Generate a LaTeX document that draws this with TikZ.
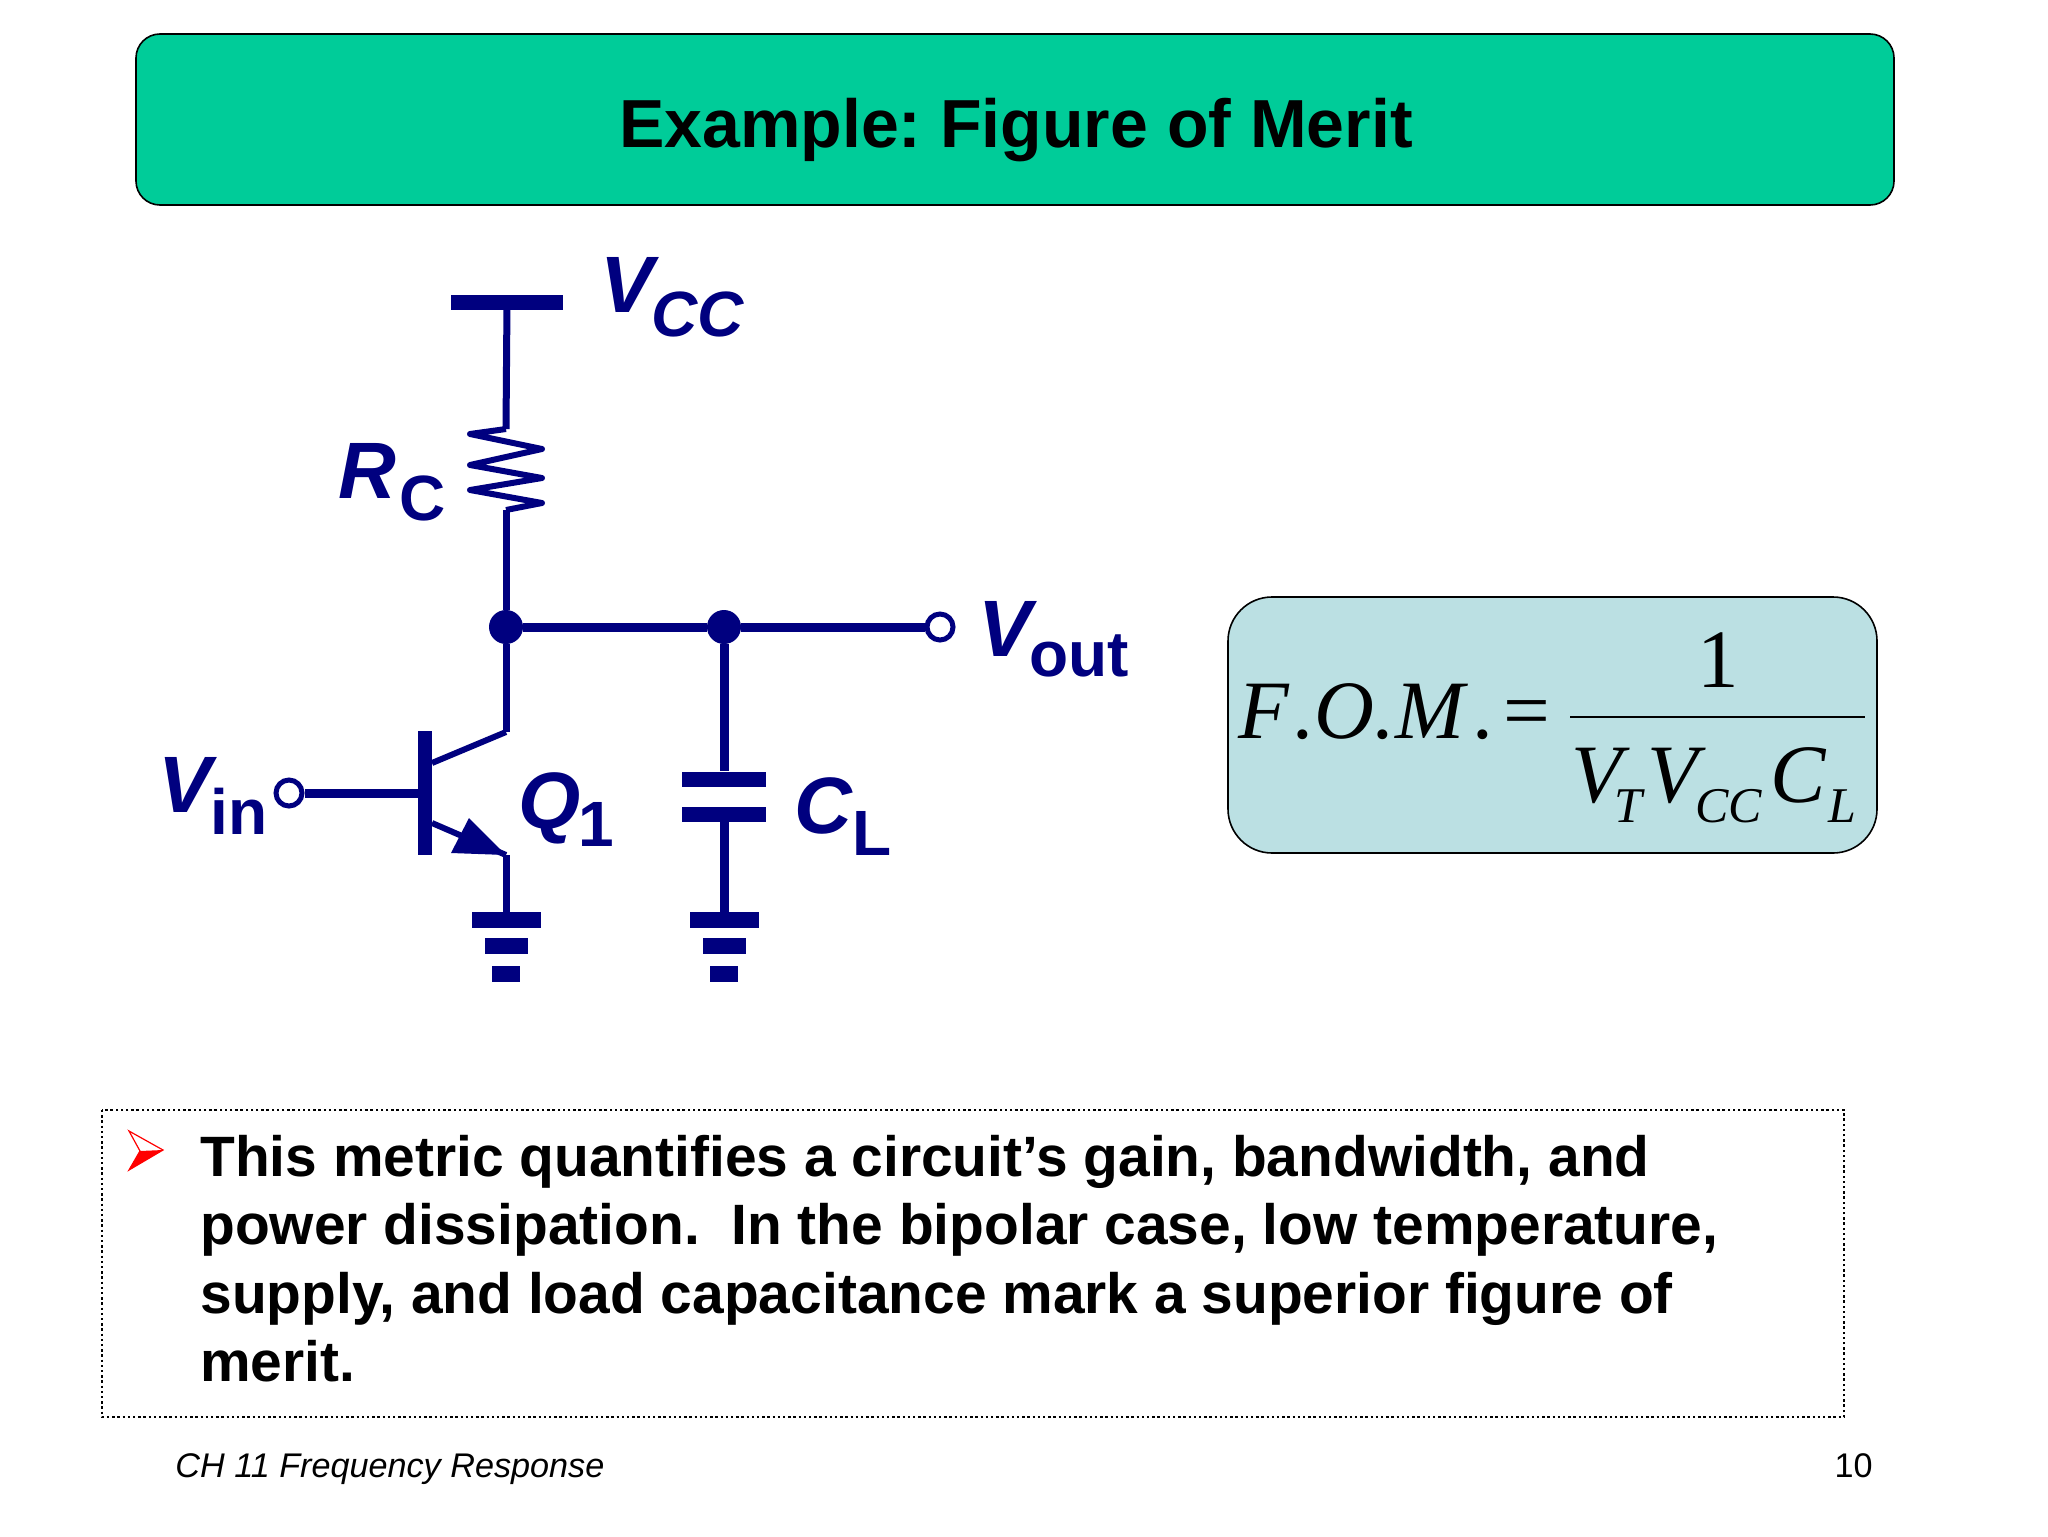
\documentclass[tikz,border=0pt]{standalone}
\usepackage{fontspec}
\usepackage{amsmath}
\usepackage{xcolor}
\usepackage{tikz}
\setmainfont{Liberation Sans}
\newfontfamily\fomfont{Liberation Serif}
\definecolor{titlegreen}{HTML}{00CC99}
\definecolor{fomblue}{HTML}{BBE0E3}
\definecolor{wirenavy}{HTML}{00007F}
\newcommand{\lblsub}[2]{\raisebox{#1}{\fontsize{32}{32}\selectfont #2}}
\newcommand{\fomsub}[1]{\raisebox{-10pt}{\fontsize{25}{25}\selectfont\textit{#1}}}
\tikzset{
  wire/.style={draw=wirenavy, line width=3.5pt},
  wideWire/.style={draw=wirenavy, line width=4.5pt},
  dot/.style={circle, fill=wirenavy, inner sep=0pt, minimum size=17pt},
  port/.style={circle, draw=wirenavy, fill=white, line width=2.5pt, inner sep=0pt, minimum size=13pt},
  bar/.style={rectangle, fill=wirenavy, inner sep=0pt},
  gndA/.style={bar, minimum width=34.5pt, minimum height=8pt},
  gndB/.style={bar, minimum width=21.5pt, minimum height=8pt},
  gndC/.style={bar, minimum width=14pt, minimum height=8pt},
  plate/.style={bar, minimum width=42pt, minimum height=7.5pt},
  lbl/.style={anchor=base west, inner sep=0pt, text=wirenavy, font=\bfseries\fontsize{40}{40}\selectfont},
  fom/.style={anchor=base west, inner sep=0pt, font=\fomfont\fontsize{41.5}{41.5}\selectfont},
}
\begin{document}
\begin{tikzpicture}[x=0.5pt, y=-0.5pt]
        \useasboundingbox (0,0) rectangle (2048,1536);

        % Title banner
        \draw[fill=titlegreen, line width=0.8pt, rounded corners=12pt] (136,34) rectangle (1894,205);
        \node[inner sep=0pt, font=\bfseries\fontsize{34}{34}\selectfont] (title) at (1016,130) {\frenchspacing Example: Figure of Merit};

        % Define supply, output and input terminals
        \node[bar, minimum width=56pt, minimum height=7.5pt] (VS) at (507,302) {};
        \node[dot] (N1) at (506,627) {};
        \node[dot] (N2) at (724,627) {};
        \node[port] (Out) at (940,627) {};
        \node[port] (Vi) at (289,793) {};

        % Define transistor body and emitter points
        \node[bar, minimum width=7pt, minimum height=62pt] (Qbar) at (425,793) {};
        \coordinate (QC) at (506,732);
        \coordinate (QD) at (432,763);
        \coordinate (QE) at (432,823);
        \coordinate (QT) at (506,855);
        \coordinate (QA) at (469,818);
        \coordinate (QF) at (451,853);

        % Define resistor ends
        \coordinate (R1) at (506,429);
        \coordinate (R2) at (506,510);

        % Define capacitor plates
        \node[plate] (P1) at (724,779) {};
        \node[plate] (P2) at (724,814) {};

        % Define ground bars
        \node[gndA] (G1) at (506,920) {};
        \node[gndB] (G2) at (506,946) {};
        \node[gndC] (G3) at (506,974) {};
        \node[gndA] (G4) at (724,920) {};
        \node[gndB] (G5) at (724,946) {};
        \node[gndC] (G6) at (724,974) {};

        % Define wires
        \draw[wire] (VS) -- (R1);
        \draw[wire, line width=3pt, line join=round] (R1) -- ++(-36,5) -- ++(72,15) -- ++(-72,16) -- ++(72,13) -- ++(-72,12) -- ++(72,13) -- (R2);
        \draw[wire] (R2) -- (N1);
        \draw[wire] (N1) -- (QC);
        \draw[wire, line width=3pt] (QC) -- (QD);
        \draw[wideWire] (N1) -- (N2);
        \draw[wideWire] (N2) -- (Out);
        \draw[wideWire] (Vi) -- (Qbar);
        \draw[wire, line width=3pt] (QE) -- (QT);
        \fill[wirenavy] (QT) -- (QA) -- (QF) -- cycle;
        \draw[wire] (QT) -- (G1);
        \draw[wideWire] (N2) -- (P1);
        \draw[wideWire] (P2) -- (G4);

        % Define labels
        \node[lbl] (LVcc) at (600,312) {\textit{V}\kern-4pt\lblsub{-12pt}{\textit{CC}}};
        \node[lbl] (LRc) at (338,498) {\textit{R}\kern1.5pt\lblsub{-11pt}{C}};
        \node[lbl] (LVout) at (978,656) {\textit{V}\kern-4pt\lblsub{-10pt}{out}};
        \node[lbl] (LVin) at (158,812) {\textit{V}\kern-3.5pt\lblsub{-11pt}{in}};
        \node[lbl] (LQ) at (518,828) {\textit{Q}\kern-1pt\lblsub{-9pt}{1}};
        \node[lbl] (LC) at (794,833) {\textit{C}\kern-0.5pt\lblsub{-11pt}{L}};

        % Formula box
        \draw[fill=fomblue, line width=0.8pt, rounded corners=22pt] (1228,597) rectangle (1877,853);
        \node[fom] (F1) at (1238,738) {\textit{F\kern2.5pt.O.M\kern5pt.}};
        \node[fom] (F2) at (1503,738) {=};
        \node[fom, anchor=base] (F3) at (1718,687) {1};
        \node[fom] (F4) at (1571,802) {\textit{V}\kern-7.8pt\fomsub{T}\kern0.9pt\textit{V}\kern-5.3pt\fomsub{CC}\kern4pt\textit{C}\kern1pt\fomsub{L}};
        \coordinate (FL) at (1570,717);
        \coordinate (FR) at (1865,717);
        \draw[line width=0.8pt] (FL) -- (FR);

        % Note box with bullet
        \draw[line width=1.2pt, dash pattern=on 1.2pt off 1.4pt] (102,1110) rectangle (1844,1417);
        \coordinate (BT) at (129,1131);
        \coordinate (BB) at (129,1170);
        \coordinate (BP) at (163,1150);
        \coordinate (BN) at (140,1151);
        \fill[red] (BB) -- (BN) -- (BP) -- cycle;
        \draw[red, line width=0.6pt, line join=miter] (BT) -- (BP) -- (BB) -- (BN) -- cycle;
        \node[anchor=north west, inner sep=0pt, align=left, font=\bfseries\fontsize{28.45}{34.1}\selectfont] (note) at (200,1135)
          {This metric quantifies a circuit’s gain, bandwidth, and\\
           power dissipation.\ \ In the bipolar case, low temperature,\\
           supply, and load capacitance mark a superior figure of\\
           merit.};

        % Footer
        \node[anchor=base west, inner sep=0pt, font=\itshape\fontsize{17.1}{17.1}\selectfont] (foot) at (175,1477) {CH 11 Frequency Response};
        \node[anchor=base east, inner sep=0pt, font=\fontsize{17.1}{17.1}\selectfont] (page) at (1873,1477) {10};
\end{tikzpicture}
\end{document}
